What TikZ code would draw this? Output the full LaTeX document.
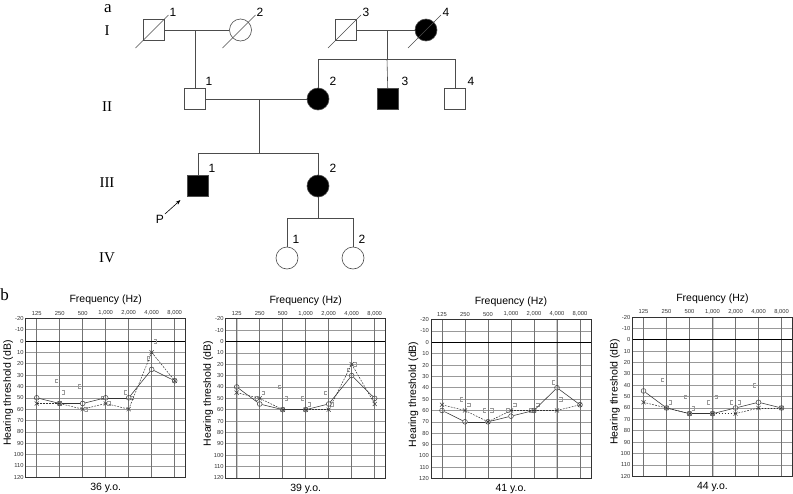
\documentclass[tikz,border=0pt]{standalone}
\usepackage{fontspec}
\setmainfont{Liberation Serif}
\setsansfont{Liberation Sans}
\usetikzlibrary{shapes.misc,arrows.meta}
\tikzset{
  pline/.style={draw=black!70, line width=0.6pt},
  msq/.style={draw=black!70, line width=0.6pt, rectangle, minimum size=21pt, inner sep=0pt},
  mci/.style={draw=black!70, line width=0.6pt, circle, minimum size=22pt, inner sep=0pt},
  aff/.style={fill=black},
  num/.style={font=\sffamily\fontsize{12}{12}\selectfont, inner sep=0pt},
  gen/.style={font=\fontsize{15}{15}\selectfont, inner sep=0pt},
  panel/.style={font=\fontsize{17}{17}\selectfont, inner sep=0pt},
  hgrid/.style={draw=black!40, line width=0.5pt},
  vgrid/.style={draw=black!55, line width=0.5pt},
  zeroline/.style={draw=black, line width=0.9pt},
  frame/.style={draw=black!80, line width=0.6pt},
  tick/.style={font=\sffamily\fontsize{5.8}{5.8}\selectfont, inner sep=0pt, text=black!80},
  axl/.style={font=\sffamily\fontsize{10.5}{10.5}\selectfont, inner sep=0pt},
  rmk/.style={circle, draw=black!75, line width=0.5pt, minimum size=4.8pt, inner sep=0pt},
  lmk/.style={cross out, draw=black!75, line width=0.5pt, minimum size=3.6pt, inner sep=0pt},
  rline/.style={draw=black!80, line width=0.55pt},
  lline/.style={draw=black!80, line width=0.5pt, dash pattern=on 1.8pt off 1.2pt},
  bone/.style={draw=black!40, line width=0.5pt},
}
% #1 left, #2 y of 0 dB, #3 caption, #4 right ear, #5 left ear, #6 bone list, #7 id, #8 highlighted column
\newcommand\agram[8]{%
\begin{scope}[shift={(#1,#2)}]
  \ifnum#8>-1 \draw[draw=black!20, line width=2pt] ({11+23*#8},-22.72) -- ({11+23*#8},136.32);\fi
  \foreach \d in {-10,10,20,...,110} \draw[hgrid] (0,{\d*1.136}) -- (160,{\d*1.136});
  \foreach \i in {0,...,6} \draw[vgrid] ({11+23*\i},-22.72) -- ({11+23*\i},136.32);
  \draw[zeroline] (0,0) -- (160,0);
  \draw[frame] (0,-22.72) rectangle (160,136.32);
  \foreach \d in {-20,-10,...,120} \node[tick,anchor=east] at (-2,{\d*1.136}) {\d};
  \foreach \f [count=\i from 0] in {125,250,500,{1,000},{2,000},{4,000},{8,000}} \node[tick] at ({11+23*\i},-28) {\f};
  \node[axl] (#7freq) at (80,-41) {Frequency (Hz)};
  \node[axl,rotate=90] (#7ylab) at (-17.5,52) {Hearing threshold (dB)};
  \node[axl] (#7cap) at (80,147) {#3};
  \foreach \c/\v/\s in {#6}
    \draw[bone] ({11+23*\c+\s*2.1},{\v*1.136-1.8}) -- ({11+23*\c+\s*4.8},{\v*1.136-1.8})
      -- ({11+23*\c+\s*4.8},{\v*1.136+1.8}) -- ({11+23*\c+\s*2.1},{\v*1.136+1.8});
  \foreach \v [count=\i from 0] in {#4} \node[rmk] (#7r\i) at ({11+23*\i},{\v*1.136}) {};
  \foreach \v [count=\i from 0] in {#5} \node[lmk] (#7l\i) at ({11+23*\i},{\v*1.136}) {};
  \foreach \i [remember=\i as \j (initially 0)] in {1,...,6} \draw[rline] (#7r\j) -- (#7r\i);
  \foreach \i [remember=\i as \j (initially 0)] in {1,...,6} \draw[lline] (#7l\j.center) -- (#7l\i.center);
\end{scope}}
\begin{document}
\begin{tikzpicture}[x=1pt,y=-1pt]
\useasboundingbox (0,0) rectangle (793,493);
\fill[white] (0,0) rectangle (793,493);

% ---------- pedigree ----------
\node[panel] (la) at (108,9) {a};
\node[gen] (gI) at (107,31) {I};
\node[gen] (gII) at (107,107) {II};
\node[gen] (gIII) at (107,183) {III};
\node[gen] (gIV) at (107,258) {IV};

\node[msq] (I1) at (153.5,30) {};
\node[mci] (I2) at (240.5,30) {};
\node[msq] (I3) at (346,30) {};
\node[mci,aff] (I4) at (426,30) {};
\node[msq] (II1) at (195,99) {};
\node[mci,aff] (II2) at (318,99) {};
\node[msq,aff] (II3) at (388,99) {};
\node[msq] (II4) at (455,99) {};
\node[msq,aff] (III1) at (198,186) {};
\node[mci,aff] (III2) at (318,186) {};
\node[mci] (IV1) at (287,258) {};
\node[mci] (IV2) at (353,258) {};

\foreach \n in {I1,I2,I3,I4}
  \draw[pline] ([shift={(-18,18)}]\n.center) -- ([shift={(15,-15)}]\n.center);

\node[num] (nI1) at (173,12) {1};
\node[num] (nI2) at (260,12) {2};
\node[num] (nI3) at (366,12) {3};
\node[num] (nI4) at (446,12) {4};
\node[num] (nII1) at (209,81) {1};
\node[num] (nII2) at (333,81) {2};
\node[num] (nII3) at (405,81) {3};
\node[num] (nII4) at (471,81) {4};
\node[num] (nIII1) at (212,168) {1};
\node[num] (nIII2) at (333,168) {2};
\node[num] (nIV1) at (296,239) {1};
\node[num] (nIV2) at (362,239) {2};

\coordinate (m1) at (195,30);
\draw[pline] (I1) -- (I2);
\draw[pline] (m1) -- (II1);

\coordinate (m2) at (387,30);
\coordinate (s2) at (387,59);
\coordinate (s2l) at (318,59);
\coordinate (s2r) at (455,59);
\draw[pline] (I3) -- (I4);
\draw[pline] (m2) -- (s2);
\draw[pline] (s2l) -- (s2r);
\draw[pline] (s2l) -- (II2);
\draw[pline] (s2) -- (II3);
\draw[pline] (s2r) -- (II4);

\coordinate (m3) at (259,99);
\coordinate (s3) at (259,153);
\coordinate (s3l) at (198,153);
\coordinate (s3r) at (318,153);
\draw[pline] (II1) -- (II2);
\draw[pline] (m3) -- (s3);
\draw[pline] (s3l) -- (s3r);
\draw[pline] (s3l) -- (III1);
\draw[pline] (s3r) -- (III2);

\coordinate (s4) at (318,218);
\coordinate (s4l) at (287,218);
\coordinate (s4r) at (353,218);
\draw[pline] (III2) -- (s4);
\draw[pline] (s4l) -- (s4r);
\draw[pline] (s4l) -- (IV1);
\draw[pline] (s4r) -- (IV2);

\node[num] (P) at (160,219) {P};
\coordinate (ptip) at (180.5,200);
\draw[black, line width=0.6pt, -{Stealth[length=5pt,width=3.6pt]}, shorten <=1pt] (P.north east) -- (ptip);

% ---------- audiograms ----------
\node[panel] (lb) at (4.7,295) {b};

\agram{25.7}{341}{36 y.o.}{50,55,55,50,50,25,35}{55,55,60,55,60,10,35}%
  {1/35/-1,1/45/1,2/40/-1,2/60/1,3/50/-1,3/55/1,4/45/-1,4/50/1,5/15/-1,5/0/1}{a}{-1}
\agram{225.7}{341.5}{39 y.o.}{40,55,60,60,55,30,50}{45,50,60,60,60,20,55}%
  {1/50/-1,1/45/1,2/40/-1,2/50/1,3/50/-1,3/55/1,4/45/-1,4/55/1,5/25/-1,5/20/1}{b}{0}
\agram{431}{342.3}{41 y.o.}{60,70,70,65,60,40,55}{55,60,70,60,60,60,55}%
  {1/50/-1,1/55/1,2/60/-1,2/60/1,3/60/-1,3/55/1,4/60/-1,4/55/1,5/35/-1,5/50/1}{c}{5}
\agram{632.5}{339.8}{44 y.o.}{45,60,65,65,60,55,60}{55,60,65,65,65,60,60}%
  {1/35/-1,1/55/1,2/50/-1,2/60/1,3/55/-1,3/50/1,4/55/-1,4/55/1,5/40/-1}{d}{3}
\end{tikzpicture}
\end{document}
